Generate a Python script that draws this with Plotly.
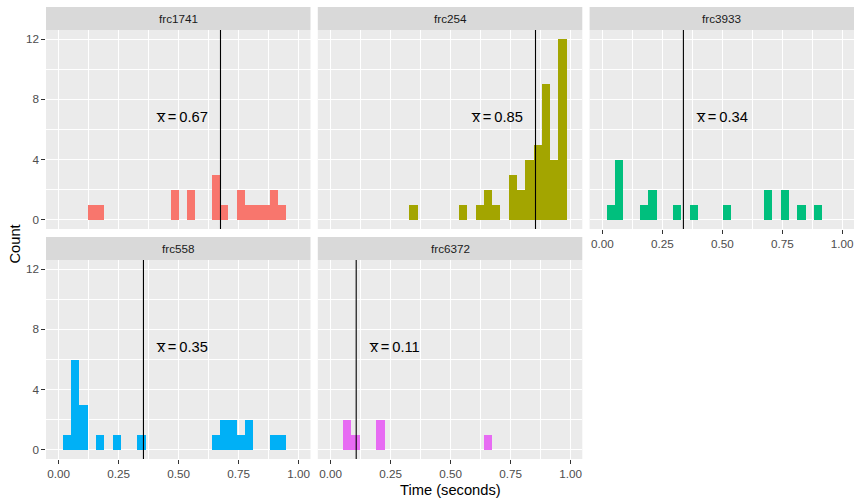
import plotly.graph_objects as go

# ---------------- data ----------------
panels = ["frc1741", "frc254", "frc3933", "frc558", "frc6372"]
colors = ["#F8766D", "#A3A500", "#00BF7D", "#00B0F6", "#E76BF3"]
bin_width = 0.0345
n_bins = 30
bin_centers = [round(i * bin_width, 4) for i in range(n_bins)]

#                 0  1  2  3  4  5  6  7  8  9 10 11 12 13 14 15 16 17 18 19 20 21 22 23 24 25 26 27 28 29
counts_frc1741 = [0, 0, 0, 0, 1, 1, 0, 0, 0, 0, 0, 0, 0, 0, 2, 0, 2, 0, 0, 3, 1, 0, 2, 1, 1, 1, 2, 1, 0, 0]
counts_frc254  = [0, 0, 0, 0, 0, 0, 0, 0, 0, 0, 1, 0, 0, 0, 0, 0, 1, 0, 1, 2, 1, 0, 3, 2, 4, 5, 9, 4, 12, 0]
counts_frc3933 = [0, 1, 4, 0, 0, 1, 2, 0, 0, 1, 0, 1, 0, 0, 0, 1, 0, 0, 0, 0, 2, 0, 2, 0, 1, 0, 1, 0, 0, 0]
counts_frc558  = [0, 1, 6, 3, 0, 1, 0, 1, 0, 0, 1, 0, 0, 0, 0, 0, 0, 0, 0, 1, 2, 2, 1, 2, 0, 0, 1, 1, 0, 0]
counts_frc6372 = [0, 0, 2, 1, 0, 0, 2, 0, 0, 0, 0, 0, 0, 0, 0, 0, 0, 0, 0, 1, 0, 0, 0, 0, 0, 0, 0, 0, 0, 0]
all_counts = [counts_frc1741, counts_frc254, counts_frc3933, counts_frc558, counts_frc6372]

means = [0.674, 0.854, 0.338, 0.353, 0.107]

x_tickvals = [0, 0.25, 0.5, 0.75, 1.0]
x_ticktext = ["0.00", "0.25", "0.50", "0.75", "1.00"]
y_tickvals = [0, 4, 8, 12]
y_ticktext = ["0", "4", "8", "12"]

# ---------------- layout geometry ----------------
W, H = 862, 504
col_px = [(46, 310.5), (317.8, 582.3), (589.6, 854)]
row_plot_px = [(30, 229), (260, 459)]
row_strip_px = [(7, 30), (237, 260)]
positions = [(0, 0), (0, 1), (0, 2), (1, 0), (1, 1)]

FONT = "Liberation Sans, Arial, sans-serif"

fig = go.Figure()
shapes = []
annotations = []

for i, (name, col, counts, m) in enumerate(zip(panels, colors, all_counts, means)):
    r, c = positions[i]
    xa = "x" if i == 0 else f"x{i+1}"
    ya = "y" if i == 0 else f"y{i+1}"
    xkey = "xaxis" if i == 0 else f"xaxis{i+1}"
    ykey = "yaxis" if i == 0 else f"yaxis{i+1}"

    fig.add_trace(go.Bar(
        x=bin_centers, y=counts, width=bin_width,
        marker=dict(color=col, line=dict(width=0)),
        xaxis=xa, yaxis=ya, showlegend=False, hoverinfo="x+y",
    ))

    x0, x1 = col_px[c]
    y0, y1 = row_plot_px[r]
    show_x = (r == 1) or (c == 2)
    show_y = (c == 0)

    fig.update_layout({
        xkey: dict(
            domain=[x0 / W, x1 / W], anchor=ya, range=[-0.053, 1.049],
            showgrid=True, gridcolor="white", gridwidth=1.1, zeroline=False,
            showline=False,
            tickvals=x_tickvals, ticktext=x_ticktext if show_x else [""] * 5,
            ticks="outside" if show_x else "", ticklen=3.7, tickwidth=1,
            tickcolor="#333333",
            tickfont=dict(family=FONT, size=11.7, color="#4D4D4D"),
            minor=dict(tickvals=[0.125, 0.375, 0.625, 0.875], showgrid=True,
                       gridcolor="white", gridwidth=0.55, ticks=""),
            fixedrange=True,
        ),
        ykey: dict(
            domain=[1 - y1 / H, 1 - y0 / H], anchor=xa, range=[-0.6, 12.6],
            showgrid=True, gridcolor="white", gridwidth=1.1, zeroline=False,
            showline=False,
            tickvals=y_tickvals, ticktext=y_ticktext if show_y else [""] * 4,
            ticks="outside" if show_y else "", ticklen=3.7, tickwidth=1,
            tickcolor="#333333",
            tickfont=dict(family=FONT, size=11.7, color="#4D4D4D"),
            minor=dict(tickvals=[2, 6, 10], showgrid=True,
                       gridcolor="white", gridwidth=0.55, ticks=""),
            fixedrange=True,
        ),
    })

    # panel background
    shapes.append(dict(type="rect", xref="paper", yref="paper",
                       x0=x0 / W, x1=x1 / W, y0=1 - y1 / H, y1=1 - y0 / H,
                       fillcolor="#EBEBEB", line=dict(width=0), layer="below"))
    # strip
    s0, s1 = row_strip_px[r]
    shapes.append(dict(type="rect", xref="paper", yref="paper",
                       x0=x0 / W, x1=x1 / W, y0=1 - s1 / H, y1=1 - s0 / H,
                       fillcolor="#D9D9D9", line=dict(width=0), layer="below"))
    annotations.append(dict(text=name, xref="paper", yref="paper",
                            x=(x0 + x1) / 2 / W, y=1 - (s0 + s1) / 2 / H,
                            showarrow=False, xanchor="center", yanchor="middle",
                            font=dict(family=FONT, size=11.7, color="#1A1A1A")))
    # mean line
    shapes.append(dict(type="line", xref=xa, yref=f"{ya} domain",
                       x0=m, x1=m, y0=0, y1=1,
                       line=dict(color="black", width=1.1), layer="above"))
    # mean label
    right = m < 0.5
    annotations.append(dict(
        text=f"x\u0305\u2009=\u2009{m:.2f}", xref=xa, yref=ya,
        x=m + 0.045 if right else m - 0.045, y=6.85,
        xanchor="left" if right else "right", yanchor="middle",
        showarrow=False, font=dict(family=FONT, size=14.7, color="black")))

# axis titles
annotations.append(dict(text="Time (seconds)", xref="paper", yref="paper",
                        x=450 / W, y=1 - 490 / H, showarrow=False,
                        xanchor="center", yanchor="middle",
                        font=dict(family=FONT, size=14.7, color="black")))
annotations.append(dict(text="Count", xref="paper", yref="paper",
                        x=14 / W, y=1 - 244.5 / H, showarrow=False, textangle=-90,
                        xanchor="center", yanchor="middle",
                        font=dict(family=FONT, size=14.7, color="black")))

fig.update_layout(
    width=W, height=H, margin=dict(l=0, r=0, t=0, b=0),
    paper_bgcolor="white", plot_bgcolor="rgba(0,0,0,0)",
    shapes=shapes, annotations=annotations, bargap=0,
    font=dict(family=FONT),
)

fig.write_html("out.html",
               config={"displayModeBar": False},
               post_script="document.body.style.margin='0';document.body.style.overflow='hidden';")
